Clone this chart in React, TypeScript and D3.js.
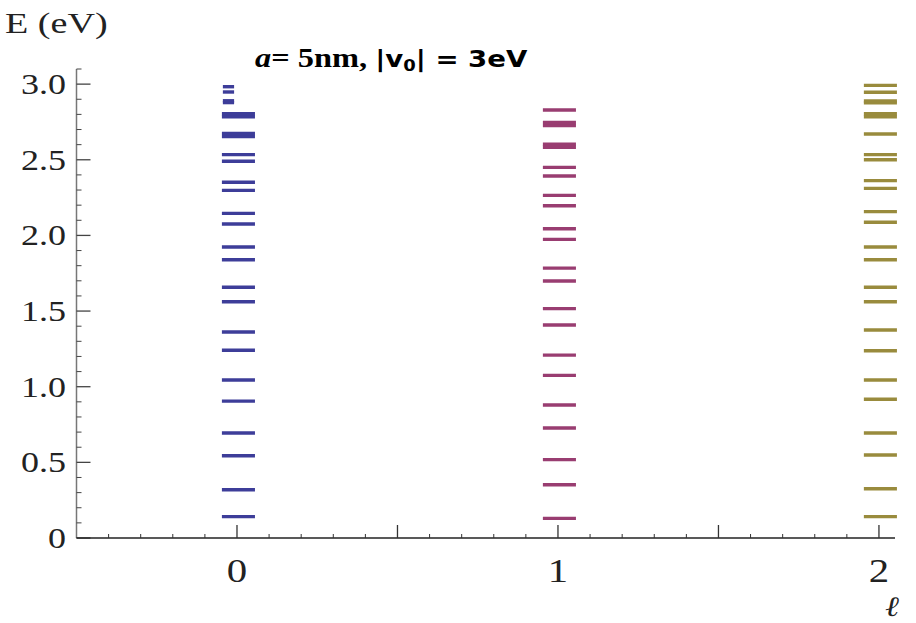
import React from "react";
import * as d3 from "d3";

// Energy levels (eV) for each angular momentum l
const levelsL0 = [0.141, 0.319, 0.544, 0.694, 0.905, 1.044, 1.241, 1.362, 1.562, 1.657, 1.839, 1.923, 2.075, 2.146, 2.298, 2.351, 2.49, 2.534, 2.654, 2.674, 2.784, 2.804];
const levelsL0Partial = [2.878, 2.89, 2.948, 2.983];
const levelsL1 = [0.13, 0.352, 0.518, 0.727, 0.879, 1.075, 1.209, 1.408, 1.516, 1.699, 1.784, 1.974, 2.044, 2.196, 2.265, 2.393, 2.45, 2.583, 2.603, 2.726, 2.746, 2.829];
const levelsL2 = [0.141, 0.326, 0.549, 0.694, 0.917, 1.044, 1.238, 1.375, 1.562, 1.657, 1.839, 1.923, 2.087, 2.157, 2.311, 2.362, 2.5, 2.534, 2.67, 2.784, 2.804, 2.876, 2.888, 2.946, 2.992];

const ells = [0, 1, 2];
const seriesColors = ["rgb(61,61,153)", "rgb(153,61,113)", "rgb(153,139,61)"];
const yTickLabels = ["0", "0.5", "1.0", "1.5", "2.0", "2.5", "3.0"];
const yTickValues = [0, 0.5, 1, 1.5, 2, 2.5, 3];
const xTickLabels = ["0", "1", "2"];

const W = 916;
const H = 623;
const SX = 1.2; // horizontal text stretch

export default function App() {
  const x = d3.scaleLinear().domain([-0.5, 2.05]).range([76.5, 895]);
  const y = d3.scaleLinear().domain([0, 3.1]).range([538, 69]);

  const series = [levelsL0, levelsL1, levelsL2];

  const yMinor = d3.range(1, 32).map((i) => i / 10).filter((v) => Math.abs(v * 2 - Math.round(v * 2)) > 1e-6);
  const yMajor = yTickValues;
  const xMinor = d3.range(-4, 21).map((i) => i / 10).filter((v) => Math.abs(v * 2 - Math.round(v * 2)) > 1e-6);
  const xMajor = [0, 0.5, 1, 1.5, 2];

  const x0 = x(-0.5);
  const y0 = y(0);
  const serif = "Liberation Serif, Times New Roman, serif";

  return (
    <svg width={W} height={H} style={{ position: "absolute", left: 0, top: 0, background: "#fff" }}>
      <rect width={W} height={H} fill="#fff" />
      {/* y axis */}
      <line x1={x0} x2={x0} y1={y0} y2={y(3.1)} stroke="#777" strokeWidth={1.5} />
      {yMajor.map((v) => (
        <line key={"ym" + v} x1={x0} x2={x0 + 14} y1={y(v)} y2={y(v)} stroke="#444" strokeWidth={1.3} />
      ))}
      {yMinor.map((v) => (
        <line key={"yn" + v} x1={x0} x2={x0 + 5} y1={y(v)} y2={y(v)} stroke="#444" strokeWidth={1} />
      ))}
      {yTickLabels.map((t, i) => (
        <text
          key={"yl" + t}
          transform={`translate(66,${y(yTickValues[i]) + 10}) scale(${SX},1)`}
          textAnchor="end"
          fontFamily={serif}
          fontSize={30}
          fill="#222"
        >
          {t}
        </text>
      ))}
      {/* x axis */}
      <line x1={x0} x2={x(2.05)} y1={y0} y2={y0} stroke="#222" strokeWidth={1.5} />
      {xMajor.map((v) => (
        <line key={"xm" + v} x1={x(v)} x2={x(v)} y1={y0} y2={y0 - 13} stroke="#333" strokeWidth={1.3} />
      ))}
      {xMinor.map((v) => (
        <line key={"xn" + v} x1={x(v)} x2={x(v)} y1={y0} y2={y0 - 4} stroke="#333" strokeWidth={1} />
      ))}
      {xTickLabels.map((t, i) => (
        <text
          key={"xl" + t}
          transform={`translate(${x(ells[i])},582) scale(${SX},1)`}
          textAnchor="middle"
          fontFamily={serif}
          fontSize={34}
          fill="#222"
        >
          {t}
        </text>
      ))}
      <text transform={`translate(892,616) scale(${SX},1)`} textAnchor="middle" fontFamily={serif} fontStyle="italic" fontSize={28} fill="#222">
        ℓ
      </text>
      {/* axis label */}
      <text transform={`translate(5,33) scale(1.27,1)`} fontFamily={serif} fontSize={30} fill="#222">
        E (eV)
      </text>
      {/* title */}
      <text transform={`translate(255,67) scale(${SX},1)`} fontSize={27} fontWeight="bold" fill="#000">
        <tspan fontFamily={serif} fontStyle="italic">a</tspan>
        <tspan fontFamily={serif}>= 5nm, </tspan>
        <tspan fontFamily="DejaVu Sans" fontSize={23}>|v</tspan>
        <tspan fontFamily="DejaVu Sans" fontSize={15} dy={4}>0</tspan>
        <tspan fontFamily="DejaVu Sans" fontSize={23} dy={-4}>| = 3eV</tspan>
      </text>
      {/* energy levels */}
      {series.map((lev, si) =>
        lev.map((e, j) => (
          <line
            key={`s${si}-${j}`}
            x1={x(ells[si] - 0.047)}
            x2={x(ells[si] + 0.056)}
            y1={y(e)}
            y2={y(e)}
            stroke={seriesColors[si]}
            strokeWidth={3.4}
          />
        ))
      )}
      {levelsL0Partial.map((e, j) => (
        <line
          key={`p-${j}`}
          x1={x(ells[0] - 0.044)}
          x2={x(ells[0] - 0.009)}
          y1={y(e)}
          y2={y(e)}
          stroke={seriesColors[0]}
          strokeWidth={3.4}
        />
      ))}
    </svg>
  );
}
